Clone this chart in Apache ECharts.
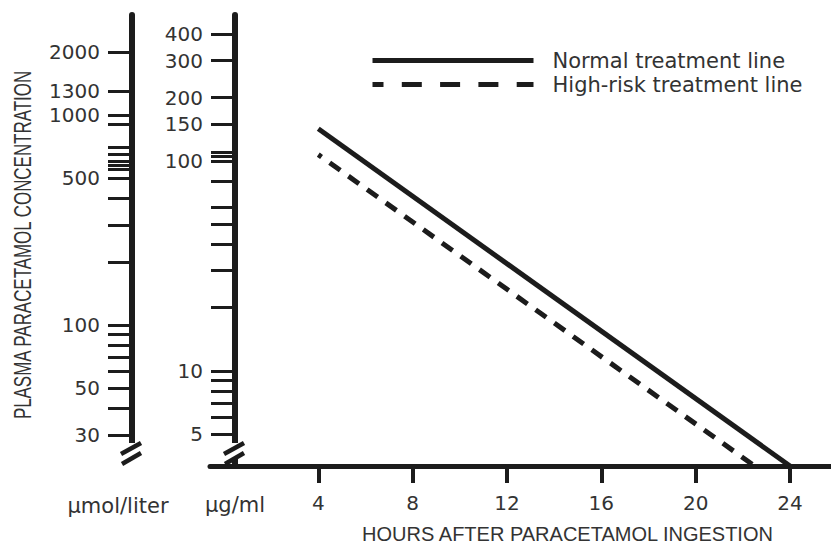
<!DOCTYPE html>
<html>
<head>
<meta charset="utf-8">
<script src="https://cdn.jsdelivr.net/npm/echarts@6/dist/echarts.min.js"></script>
<style>
html,body{margin:0;padding:0;background:#fff;}
#chart{width:831px;height:547px;}
</style>
</head>
<body>
<div id="chart"></div>
<script>
// ---- data ----
const hourTicks = [4, 8, 12, 16, 20, 24];
const ugmlLabels = [400, 300, 200, 150, 100, 10, 5];
const ugmlMinorTicks = [110, 105, 80, 60, 50, 40, 30, 20, 9, 8, 7, 6];
const umolLabels = [2000, 1300, 1000, 500, 100, 50, 30];
const umolMinorTicks = [900, 700, 650, 600, 575, 550, 400, 300, 200, 90, 80, 70, 60, 40];
const normalLine = [[4, 142], [24, 3.52]];
const highRiskLine = [[4, 107], [22.5, 3.52]];
const seriesNames = ['Normal treatment line', 'High-risk treatment line'];
const yTitle = 'PLASMA PARACETAMOL CONCENTRATION';
const xTitle = 'HOURS AFTER PARACETAMOL INGESTION';

// ---- styling / layout ----
const INK = '#1c1c1c';
const TEXT = '#333333';
const NUM_FONT = 'DejaVu Sans';
const GRID_LEFT = 210, GRID_TOP = 15, GRID_BOTTOM_PX = 466;
const UG_AXIS_X = 235, UMOL_AXIS_X = 132;

// condensed tall title: measure natural length and squeeze it to the reference length
const ctx = document.createElement('canvas').getContext('2d');
const TITLE_SIZE = 23;
ctx.font = TITLE_SIZE + 'px "Liberation Sans"';
const titleSqueeze = 350 / ctx.measureText(yTitle).width;

const chart = echarts.init(document.getElementById('chart'), null, {renderer: 'svg'});

const breakMarks = (ax, whiteTop, whiteBottom) => [
  {type: 'rect', z: 100, silent: true,
   shape: {x: ax - 11, y: whiteTop, width: 22, height: whiteBottom - whiteTop},
   style: {fill: '#ffffff'}},
  {type: 'line', z: 101, silent: true,
   shape: {x1: ax - 11, y1: 454, x2: ax + 9, y2: 443},
   style: {stroke: INK, lineWidth: 4.5}},
  {type: 'line', z: 101, silent: true,
   shape: {x1: ax - 10, y1: 464, x2: ax + 9, y2: 453},
   style: {stroke: INK, lineWidth: 4.5}}
];
const plain = v => String(v);

const option = {
  animation: false,
  backgroundColor: '#ffffff',
  grid: {left: GRID_LEFT, right: 0, top: GRID_TOP, bottom: 547 - GRID_BOTTOM_PX,
         containLabel: false, outerBoundsMode: 'none'},
  legend: {
    orient: 'vertical', left: 365, top: 45,
    itemWidth: 161, itemHeight: 26, itemGap: 3,
    data: [
      {name: seriesNames[0], itemStyle: {opacity: 0}, lineStyle: {width: 5, color: INK, type: 'solid'}},
      {name: seriesNames[1], itemStyle: {opacity: 0}, lineStyle: {width: 5, color: INK, type: [20, 18.3]}}
    ],
    textStyle: {fontFamily: NUM_FONT, fontSize: 21, color: TEXT, padding: [0, 0, 0, 14]}
  },
  xAxis: {
    type: 'value', min: -0.591, max: 25.738,
    axisLine: {show: true, onZero: false, lineStyle: {color: INK, width: 5}},
    axisTick: {show: true, customValues: hourTicks, length: 17, lineStyle: {color: INK, width: 4}},
    axisLabel: {customValues: hourTicks, margin: 27, fontFamily: NUM_FONT, fontSize: 20, color: TEXT, formatter: plain},
    splitLine: {show: false},
    name: xTitle, nameLocation: 'middle', nameGap: 58,
    nameTextStyle: {fontFamily: 'Liberation Sans', fontSize: 20, color: TEXT, padding: [0, 0, 0, 94]}
  },
  yAxis: [
    {
      type: 'log', logBase: 10, min: 3.52, max: 494.7,
      position: 'left', offset: GRID_LEFT - UG_AXIS_X,
      axisLine: {show: true, onZero: false, lineStyle: {color: INK, width: 6}},
      axisTick: {show: true, customValues: ugmlLabels.concat(ugmlMinorTicks), length: 24, lineStyle: {color: INK, width: 3}},
      axisLabel: {customValues: ugmlLabels, margin: 32, fontFamily: NUM_FONT, fontSize: 20, color: TEXT, formatter: plain},
      splitLine: {show: false}, minorTick: {show: false},
      name: 'μg/ml', nameLocation: 'start', nameGap: 28,
      nameTextStyle: {fontFamily: NUM_FONT, fontSize: 21, color: TEXT}
    },
    {
      type: 'log', logBase: 10, min: 21.31, max: 2994,
      position: 'left', offset: GRID_LEFT - UMOL_AXIS_X,
      axisLine: {show: true, onZero: false, lineStyle: {color: INK, width: 6}},
      axisTick: {show: true, customValues: umolLabels.concat(umolMinorTicks), length: 24, lineStyle: {color: INK, width: 3}},
      axisLabel: {customValues: umolLabels, margin: 32, fontFamily: NUM_FONT, fontSize: 20, color: TEXT, formatter: plain},
      splitLine: {show: false}, minorTick: {show: false}
    }
  ],
  graphic: [
    {type: 'text', z: 100, silent: true, x: 118, y: 506,
     style: {text: 'μmol/liter', fill: TEXT, font: '21px "DejaVu Sans"',
             align: 'center', verticalAlign: 'middle', textAlign: 'center', textVerticalAlign: 'middle'}},
    {type: 'text', z: 100, silent: true, x: 23, y: 245, rotation: Math.PI / 2,
     scaleX: titleSqueeze, scaleY: 1,
     style: {text: yTitle, fill: TEXT, font: TITLE_SIZE + 'px "Liberation Sans"',
             align: 'center', verticalAlign: 'middle', textAlign: 'center', textVerticalAlign: 'middle'}}
  ].concat(breakMarks(UG_AXIS_X, 443, 459), breakMarks(UMOL_AXIS_X, 443, 472)),
  series: [
    {name: seriesNames[0], type: 'line', xAxisIndex: 0, yAxisIndex: 0, data: normalLine,
     symbol: 'none', silent: true, color: INK, lineStyle: {color: INK, width: 5, cap: 'butt'}},
    {name: seriesNames[1], type: 'line', xAxisIndex: 0, yAxisIndex: 0, data: highRiskLine,
     symbol: 'none', silent: true, color: INK, lineStyle: {color: INK, width: 5, type: [13, 10], dashOffset: 9, cap: 'butt'}}
  ]
};
chart.setOption(option);
</script>
</body>
</html>
